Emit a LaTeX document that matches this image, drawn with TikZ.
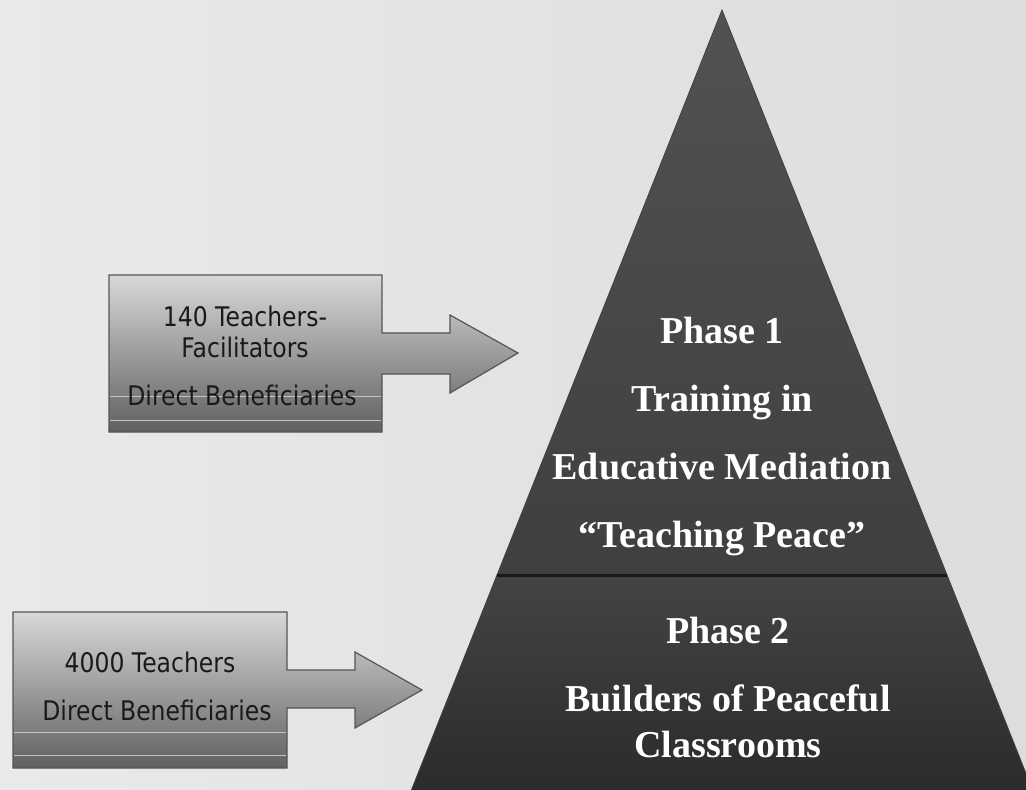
\documentclass[tikz,border=0pt]{standalone}
\usepackage{fontspec}
\setmainfont{Liberation Serif}
\newfontfamily\boxfont{DejaVu Sans}
\definecolor{bgL}{HTML}{E9E9E9}
\definecolor{bgR}{HTML}{DDDDDD}
\definecolor{pyrA}{HTML}{525252}
\definecolor{pyrB}{HTML}{3F3F3F}
\definecolor{pyrC}{HTML}{444444}
\definecolor{pyrD}{HTML}{2B2B2B}
\definecolor{boxT}{HTML}{D8D8D8}
\definecolor{boxB}{HTML}{606060}
\definecolor{boxEdge}{HTML}{555555}
\definecolor{bandC}{HTML}{C4C4C4}
\definecolor{boxText}{HTML}{1A1A1A}
\tikzset{
  callout/.style={draw=boxEdge, line width=1.2pt, top color=boxT, bottom color=boxB, line join=miter},
  band/.style={draw=bandC, line width=1pt},
  boxtxt/.style={anchor=base, inner sep=0pt, text=boxText, font=\boxfont\fontsize{27}{31}\selectfont},
  pyrtxt/.style={anchor=base, inner sep=0pt, text=white, font=\fontsize{38}{42}\selectfont\bfseries},
}
\newcommand{\bx}[1]{\scalebox{0.87}[1]{#1}}
\begin{document}
\begin{tikzpicture}[x=1pt,y=-1pt]
\useasboundingbox (0,0) rectangle (1026,790);
\clip (0,0) rectangle (1026,790);
\shade[left color=bgL, right color=bgR] (0,0) rectangle (1026,790);
% pyramid
\coordinate (apex) at (722,10);
\coordinate (dl) at (497,575);
\coordinate (dr) at (947,575);
\coordinate (bl) at (411.4,790);
\coordinate (br) at (1032.6,790);
\shade[top color=pyrA, bottom color=pyrB] (apex) -- (dr) -- (dl) -- cycle;
\shade[top color=pyrC, bottom color=pyrD] (dl) -- (dr) -- (br) -- (bl) -- cycle;
\draw[line width=0.8pt, black!75] (dl) -- (apex) -- (dr);
\draw[line width=0.8pt, black!75] (dl) -- (bl) (dr) -- (br);
\draw[line width=3pt, black!90] (dl) -- (dr);
% callout 1
\path[callout] (109,275) -- (382,275) -- (382,333) -- (450,333) -- (450,315) -- (518,353) -- (450,393) -- (450,374) -- (382,374) -- (382,432) -- (109,432) -- cycle;
\draw[band] (110,396) -- (381,396);
\draw[band] (110,420) -- (381,420);
\node[boxtxt] (t1a) at (245,326) {\bx{140 Teachers-}};
\node[boxtxt] (t1b) at (245,357) {\bx{Facilitators}};
\node[boxtxt] (t1c) at (242,405) {\bx{Direct Beneficiaries}};
% callout 2
\path[callout] (13,612) -- (287,612) -- (287,670) -- (355,670) -- (355,652) -- (422,690) -- (355,728) -- (355,708) -- (287,708) -- (287,768) -- (13,768) -- cycle;
\draw[band] (14,732) -- (286,732);
\draw[band] (14,755) -- (286,755);
\node[boxtxt] (t2a) at (150,672) {\bx{4000 Teachers}};
\node[boxtxt] (t2b) at (157,720) {\bx{Direct Beneficiaries}};
% pyramid texts
\node[pyrtxt] (p1a) at (722,343) {Phase 1};
\node[pyrtxt] (p1b) at (722,411) {Training in};
\node[pyrtxt] (p1c) at (722,479) {Educative Mediation};
\node[pyrtxt] (p1d) at (722,547) {“Teaching Peace”};
\node[pyrtxt] (p2a) at (728,643) {Phase 2};
\node[pyrtxt] (p2b) at (728,711) {Builders of Peaceful};
\node[pyrtxt] (p2c) at (728,757) {Classrooms};
\end{tikzpicture}
\end{document}
